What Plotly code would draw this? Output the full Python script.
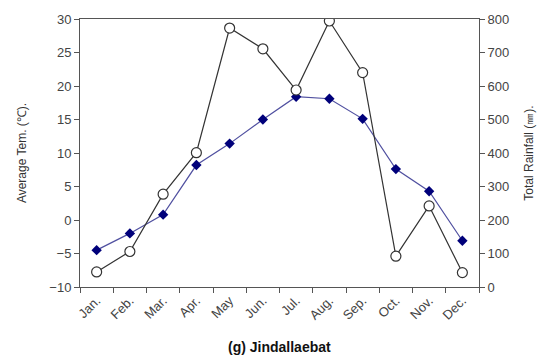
import plotly.graph_objects as go

months = ["Jan.", "Feb.", "Mar.", "Apr.", "May", "Jun.", "Jul.", "Aug.", "Sep.", "Oct.", "Nov.", "Dec."]
avg_temp = [-4.5, -2.0, 0.8, 8.2, 11.4, 15.0, 18.4, 18.1, 15.1, 7.6, 4.3, -3.1]
rainfall = [45, 106, 277, 401, 773, 711, 588, 794, 640, 92, 242, 43]

fig = go.Figure()
fig.add_trace(go.Scatter(
    x=months, y=rainfall, yaxis="y2", mode="lines+markers",
    line=dict(color="#333333", width=1.2),
    marker=dict(symbol="circle", size=10, color="white", line=dict(color="#333333", width=1.2)),
    showlegend=False))
fig.add_trace(go.Scatter(
    x=months, y=avg_temp, mode="lines+markers",
    line=dict(color="#5050a0", width=1.2),
    marker=dict(symbol="diamond", size=8, color="#00007a"),
    showlegend=False))

axfont = dict(family="Liberation Sans, Arial, sans-serif", size=13, color="#444444")
fig.update_layout(
    width=546, height=363,
    margin=dict(l=80, r=66, t=16, b=76),
    paper_bgcolor="white", plot_bgcolor="white",
    font=axfont,
    xaxis=dict(type="category", range=[-0.5, 11.5], tickangle=-45, tickson="boundaries",
               ticks="outside", ticklen=5, tickcolor="#555555",
               showline=True, linecolor="#555555", linewidth=1, mirror=True,
               showgrid=False, tickfont=axfont),
    yaxis=dict(range=[-10, 30], dtick=5, ticks="outside", ticklen=5, tickcolor="#555555",
               showline=True, linecolor="#555555", linewidth=1, showgrid=False, zeroline=False,
               tickfont=axfont,
               title=dict(text="Average Tem. (℃).", font=dict(size=12, color="#333333"), standoff=20)),
    yaxis2=dict(range=[0, 800], dtick=100, overlaying="y", side="right", ticks="outside", ticklen=5,
                tickcolor="#555555", showline=True, linecolor="#555555", linewidth=1, showgrid=False,
                zeroline=False, tickfont=axfont,
                title=dict(text="Total Rainfall (㎜).", font=dict(size=12, color="#333333"), standoff=16)),
    annotations=[dict(text="<b>(g) Jindallaebat</b>", xref="paper", yref="paper", x=0.5, y=-0.225,
                      yanchor="middle", showarrow=False,
                      font=dict(family="Liberation Sans, Arial, sans-serif", size=14, color="#111111"))],
)
fig.write_html("out.html")
